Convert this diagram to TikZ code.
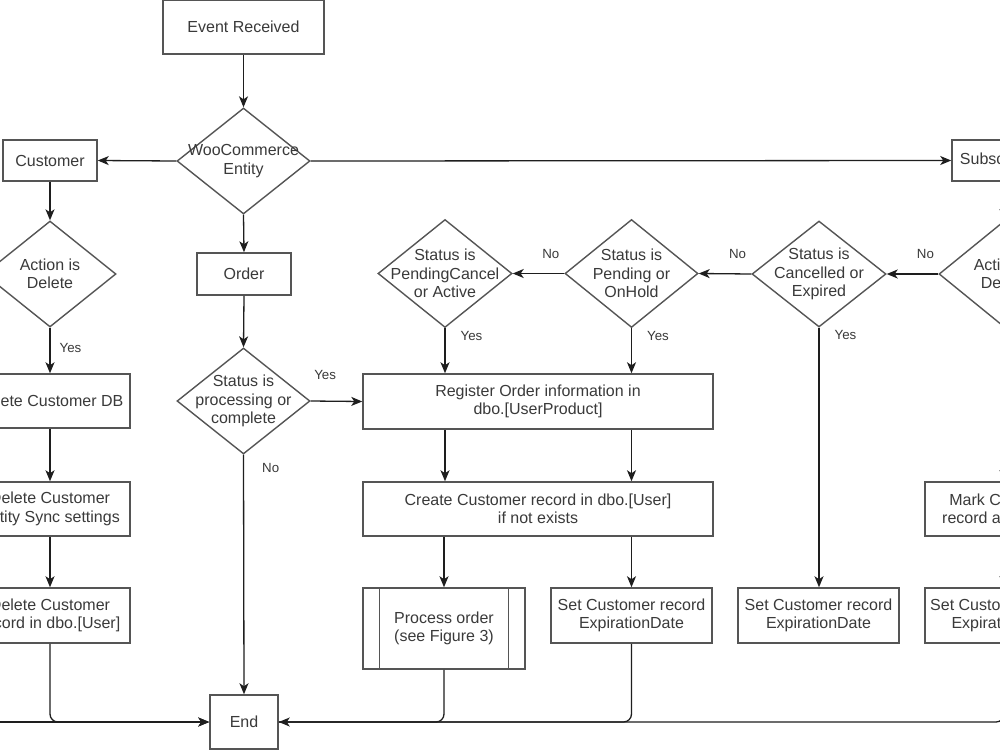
\documentclass[tikz,border=0pt]{standalone}
\usepackage{fontspec}
\setmainfont{Liberation Sans}
\usetikzlibrary{arrows.meta,shapes.geometric}
\definecolor{ln}{HTML}{1E1E1E}
\definecolor{bd}{HTML}{555555}
\definecolor{tx}{HTML}{3A3A3A}
\begin{document}
\begin{tikzpicture}[x=1pt,y=-1pt,
  box/.style={draw=bd, line width=1.5pt, fill=white, text=tx, align=center, inner sep=0pt, font=\fontsize{16}{18.5}\selectfont},
  dia/.style={draw=bd, line width=1.4pt, diamond, inner sep=0pt, minimum width=133pt, minimum height=106pt},
  dtxt/.style={text=tx, align=center, inner sep=0pt, font=\fontsize{16}{18.5}\selectfont},
  arr/.style={draw=ln, line width=1.3pt, -{Stealth[length=11pt,width=9pt,inset=3pt]}},
  lnk/.style={draw=ln, line width=1.3pt},
  lbl/.style={text=tx, font=\fontsize{13.3}{16}\selectfont, inner sep=0pt}]
\useasboundingbox (0,0) rectangle (1000,750);
\clip (0,0) rectangle (1000,750);
\fill[white] (0,0) rectangle (1000,750);

% top
\node[box, minimum width=161pt, minimum height=54pt] (ev) at (243.5,27) {Event Received};
\node[dia] (woo) at (243.5,161) {};
\node[dtxt] (wooT) at (woo) {WooCommerce\\Entity};
\node[box, minimum width=94pt, minimum height=41pt] (cust) at (50,160.5) {Customer};
\node[box, minimum width=104pt, minimum height=41pt] (subs) at (1004,160.5) {Subscription};

% customer column
\node[dia, minimum width=132pt] (actC) at (50,274) {};
\node[dtxt] (actCT) at (actC) {Action is\\Delete};
\node[box, minimum width=160pt, minimum height=54pt] (delDB) at (50,401) {Delete Customer DB};
\node[box, minimum width=160pt, minimum height=54pt] (delSync) at (50,509) {Delete Customer\\Entity Sync settings};
\node[box, minimum width=160pt, minimum height=55pt] (delUser) at (50,615.5) {Delete Customer\\record in dbo.[User]};

% order column
\node[box, minimum width=94pt, minimum height=42pt] (order) at (244,274) {Order};
\node[dia] (stat) at (243.5,401) {};
\node[dtxt] (statT) at (stat) {Status is\\processing or\\complete};
\node[box, minimum width=68pt, minimum height=54pt] (endn) at (244,722) {End};

% middle
\node[box, minimum width=350pt, minimum height=55pt] (reg) at (538,401.5) {Register Order information in\\dbo.[UserProduct]};
\node[dia, minimum width=134pt, minimum height=108pt] (pc) at (445,273.5) {};
\node[dtxt] (pcT) at (pc) {Status is\\PendingCancel\\or Active};
\node[dia, minimum width=133pt, minimum height=108pt] (ph) at (631.5,273.5) {};
\node[dtxt] (phT) at (ph) {Status is\\Pending or\\OnHold};
\node[dia, minimum width=134pt, minimum height=106pt] (ce) at (819,274) {};
\node[dtxt] (ceT) at (ce) {Status is\\Cancelled or\\Expired};
\node[dia, minimum width=130pt, minimum height=106pt] (actS) at (1004,274) {};
\node[dtxt] (actST) at (actS) {Action is\\Delete};

\node[box, minimum width=350pt, minimum height=54pt] (create) at (538,509) {Create Customer record in dbo.[User]\\if not exists};
\node[box, minimum width=162pt, minimum height=81pt] (proc) at (444,628.5) {Process order\\(see Figure 3)};
\draw[draw=bd, line width=1.3pt] ([xshift=17pt]proc.north west) -- ([xshift=17pt]proc.south west);
\draw[draw=bd, line width=1.3pt] ([xshift=-17pt]proc.north east) -- ([xshift=-17pt]proc.south east);
\node[box, minimum width=161pt, minimum height=55pt] (setA) at (631.5,615.5) {Set Customer record\\ExpirationDate};
\node[box, minimum width=161pt, minimum height=55pt] (setB) at (818.5,615.5) {Set Customer record\\ExpirationDate};
\node[box, minimum width=158pt, minimum height=54pt] (mark) at (1004,509) {Mark Customer\\record as deleted};
\node[box, minimum width=158pt, minimum height=55pt] (setC) at (1004,615.5) {Set Customer record\\ExpirationDate};

% connectors
\draw[arr] (ev.south) -- (woo.north);
\draw[arr] (woo.west) -- (cust.east);
\draw[arr] (woo.east) -- (subs.west);
\draw[arr] (woo.south) -- (order.north);
\draw[arr] (cust.south) -- (actC.north);
\draw[arr] (actC.south) -- node[lbl, pos=0.45, anchor=west, xshift=9pt] {Yes} (delDB.north);
\draw[arr] (delDB.south) -- (delSync.north);
\draw[arr] (delSync.south) -- (delUser.north);
\coordinate (offL) at (-80,722);
\draw[arr] (offL) -- (endn.west);
\draw[arr, rounded corners=8pt] (delUser.south) |- (endn.west);

\draw[arr] (order.south) -- (stat.north);
\draw[arr] (stat.east) -- node[lbl, pos=0.28, yshift=26pt] {Yes} (reg.west);
\draw[arr] (stat.south) -- node[lbl, pos=0.055, anchor=west, xshift=18pt] {No} (endn.north);

\draw[arr] (subs.south) -- (actS.north);
\draw[arr] (actS.west) -- node[lbl, pos=0.25, yshift=20pt] {No} (ce.east);
\draw[arr] (ce.west) -- node[lbl, pos=0.26, yshift=20pt] {No} (ph.east);
\draw[arr] (ph.west) -- node[lbl, pos=0.26, yshift=20pt] {No} (pc.east);
\draw[arr] (pc.south) -- node[lbl, pos=0.17, anchor=west, xshift=15pt] {Yes} (pc.south |- reg.north);
\draw[arr] (ph.south) -- node[lbl, pos=0.17, anchor=west, xshift=15pt] {Yes} (ph.south |- reg.north);
\draw[arr] (ce.south) -- node[lbl, pos=0.027, anchor=west, xshift=15pt] {Yes} (ce.south |- setB.north);
\draw[arr] (pc.south |- reg.south) -- (pc.south |- create.north);
\draw[arr] (ph.south |- reg.south) -- (ph.south |- create.north);
\draw[arr] (proc.north |- create.south) -- (proc.north);
\draw[arr] (setA.north |- create.south) -- (setA.north);
\draw[arr] (actS.south) -- (mark.north);
\draw[arr] (mark.south) -- (setC.north);

\draw[lnk, rounded corners=8pt] (proc.south) |- (endn.east);
\draw[lnk, rounded corners=8pt] (setA.south) |- (endn.east);
\draw[arr, rounded corners=8pt] (setC.south) |- (endn.east);
\end{tikzpicture}
\end{document}
